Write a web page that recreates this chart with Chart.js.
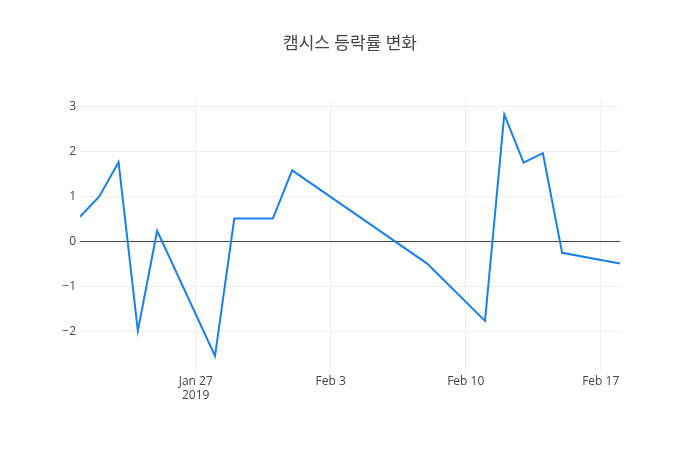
<!DOCTYPE html>
<html>
<head>
<meta charset="utf-8">
<script src="https://cdn.jsdelivr.net/npm/chart.js@4/dist/chart.umd.min.js"></script>
<style>
html,body{margin:0;padding:0;background:#fff;}
#wrap{width:700px;height:450px;}
</style>
</head>
<body>
<div id="wrap"><canvas id="c" width="700" height="450"></canvas></div>
<script>
const titleText = "캠시스 등락률 변화";
const dates = ["2019-01-21","2019-01-22","2019-01-23","2019-01-24","2019-01-25","2019-01-28","2019-01-29","2019-01-31","2019-02-01","2019-02-08","2019-02-11","2019-02-12","2019-02-13","2019-02-14","2019-02-15","2019-02-18"];
const changes = [0.55, 1.0, 1.76, -1.98, 0.24, -2.54, 0.51, 0.51, 1.58, -0.49, -1.76, 2.82, 1.75, 1.96, -0.25, -0.49];
const xTickDates = ["2019-01-27","2019-02-03","2019-02-10","2019-02-17"];
const xTickLabels = [["Jan 27","2019"],["Feb 3"],["Feb 10"],["Feb 17"]];
const yTicks = [-2,-1,0,1,2,3];

const DAY = 86400000;
const base = Date.UTC(2019,0,27);
function dayOf(s){const p=s.split("-").map(Number);return (Date.UTC(p[0],p[1]-1,p[2])-base)/DAY;}
const points = dates.map((d,i)=>({x:dayOf(d), y:changes[i]}));
const xTickVals = xTickDates.map(dayOf);
const FONT = "'Open Sans', 'Noto Sans CJK KR', sans-serif";

new Chart(document.getElementById('c'), {
  type: 'line',
  data: { datasets: [{ data: points, borderColor: '#1a80ea', borderWidth: 2, pointRadius: 0, tension: 0, fill: false }] },
  options: {
    responsive: false,
    animation: false,
    layout: { padding: 0 },
    plugins: {
      legend: { display: false },
      tooltip: { enabled: false },
      title: { display: true, text: titleText, color: '#444', font: { family: FONT, size: 17, weight: 'normal' }, padding: { top: 34, bottom: 47 } }
    },
    scales: {
      x: {
        type: 'linear',
        min: dayOf(dates[0]), max: dayOf(dates[dates.length-1]),
        afterBuildTicks: s => { s.ticks = xTickVals.map(v=>({value:v})); },
        afterFit: s => { s.height = 80; },
        border: { display: false },
        grid: { color: '#eeeeee', drawTicks: false, lineWidth: 1 },
        ticks: {
          padding: 4, color: '#444', font: { family: FONT, size: 12 }, maxRotation: 0, autoSkip: false,
          callback: v => { const i = xTickVals.indexOf(v); return i >= 0 ? xTickLabels[i] : ''; }
        }
      },
      y: {
        min: -2.85, max: 3.11,
        afterBuildTicks: s => { s.ticks = yTicks.map(v=>({value:v})); },
        afterFit: s => { s.width = 80; },
        border: { display: false },
        grid: { color: c => c.tick && c.tick.value === 0 ? '#444' : '#eeeeee', drawTicks: false, lineWidth: 1 },
        ticks: {
          padding: 4, color: '#444', font: { family: FONT, size: 12 },
          callback: v => v < 0 ? '\u2212' + Math.abs(v) : String(v)
        }
      },
      yR: {
        type: 'linear', position: 'right', display: true,
        min: 0, max: 1,
        afterFit: s => { s.width = 80; },
        border: { display: false },
        grid: { display: false, drawOnChartArea: false },
        ticks: { display: false }
      }
    }
  }
});
</script>
</body>
</html>
